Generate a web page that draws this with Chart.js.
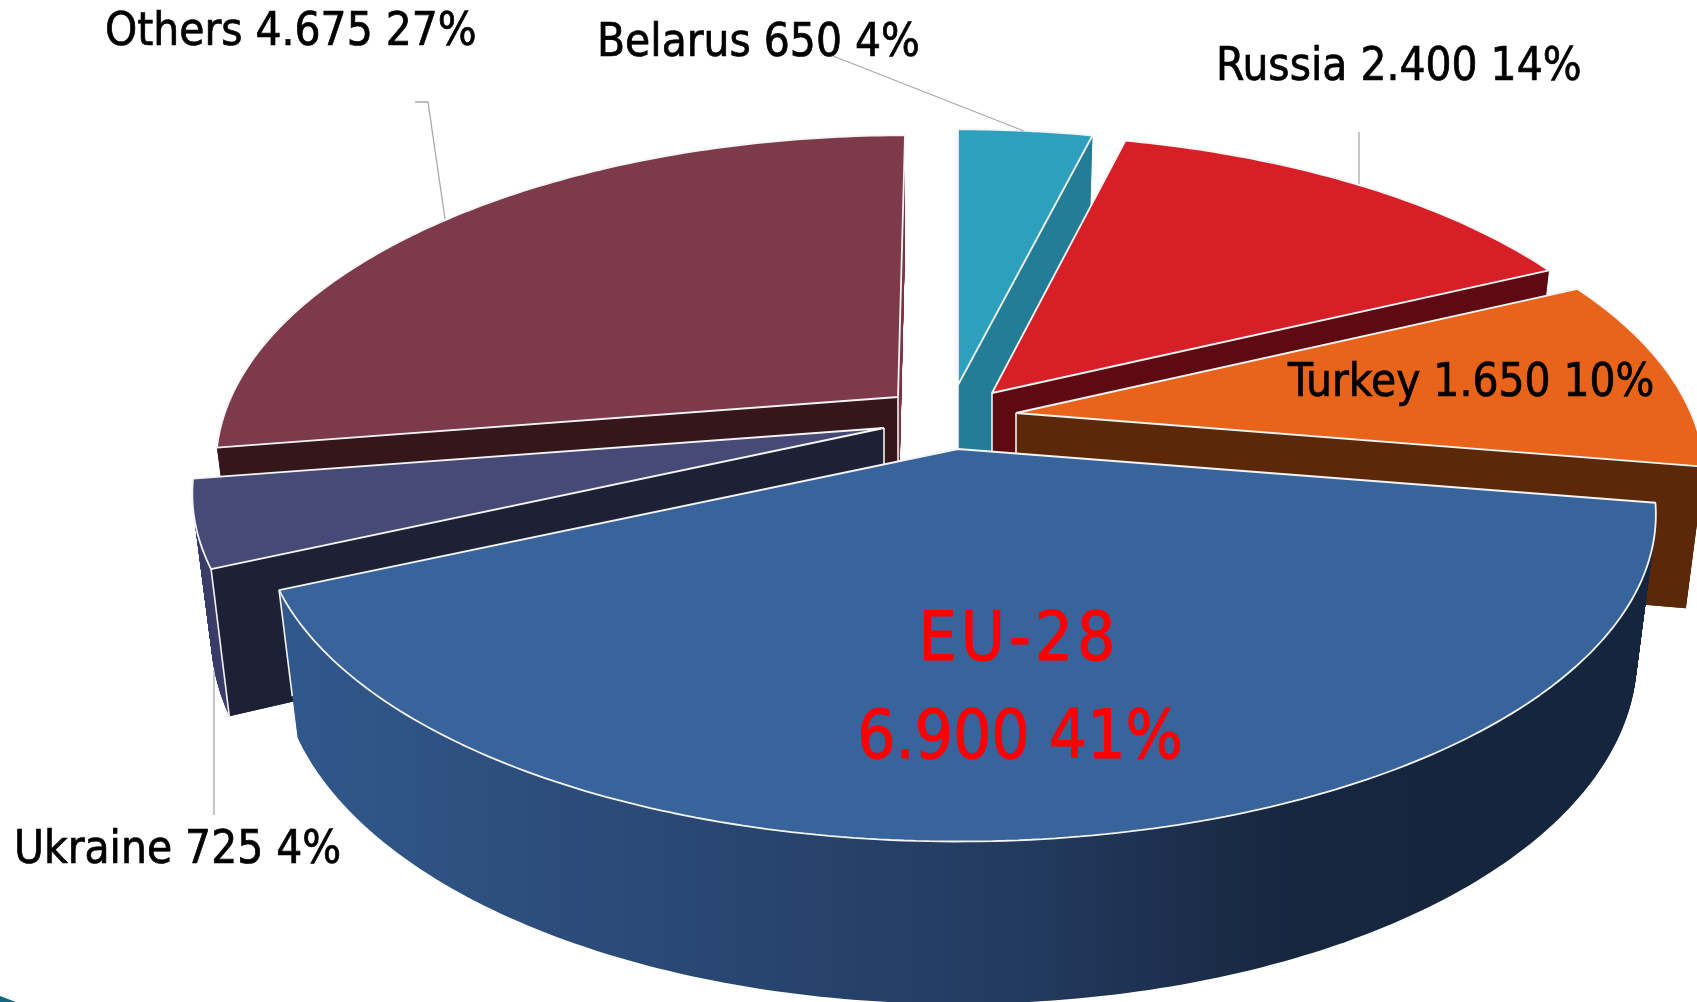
<!DOCTYPE html>
<html>
<head>
<meta charset="utf-8">
<title>Exports by destination</title>
<script src="https://cdn.jsdelivr.net/npm/chart.js@4"></script>
<style>
  html, body { margin: 0; padding: 0; background: #fff; overflow: hidden; }
  canvas { display: block; }
</style>
</head>
<body>
<canvas id="pie" width="1697" height="1002"></canvas>
<script>
// data, clockwise from 12 o'clock
const categories = ['Belarus', 'Russia', 'Turkey', 'EU-28', 'Ukraine', 'Others'];
const values = [650, 2400, 1650, 6900, 725, 4675];
const valueLabels = ['650', '2.400', '1.650', '6.900', '725', '4.675'];
const percentLabels = ['4%', '14%', '10%', '41%', '4%', '27%'];

const topColors = ['#2ca0bd', '#d71f27', '#e8641b', '#38639b', '#474a76', '#7d3a4a'];
const wallColors = ['#237d96', '#5f0a12', '#5c280a', null, '#3b3e69', '#7d3a4a'];
const faceColors = ['#237d96', '#5f0a12', '#5c280a', null, '#1d2136', '#35161a'];

// which cut edge of the slice faces the viewer
const faceEdges = ['end', 'end', 'end', null, 'start', 'start'];

// where the tip of each exploded slice ends up, plus small per slice fudge
const tips = [
  { x: 958, y: 385, wide: 1, tall: 0.977, lean: 0 },
  { x: 992, y: 393, wide: 0.992, tall: 0.988, lean: 0 },
  { x: 1016, y: 413, wide: 1, tall: 1, lean: 0 },
  { x: 958, y: 449, wide: 1.013, tall: 1, lean: 0 },
  { x: 884, y: 428, wide: 1.004, tall: 1, lean: 0 },
  { x: 898, y: 397, wide: 0.988, tall: 1, lean: -7 }
];
// camera: disc half width, half height and how fast the near side grows
const discW = 675;
const discH = 314;
const persp = 0.2;
const wallDepth = 138;
const wallGrow = 0.15;
const wallShrink = 0.027;
const wallSteps = 170;
const drawOrder = [5, 0, 1, 4, 2, 3];

const labelSpots = [
  { x: 597, y: 44 }, { x: 1216, y: 68 }, { x: 1288, y: 384 },
  null, { x: 14, y: 851 }, { x: 105, y: 33 }
];
const leaders = [
  [[415, 102], [428, 102], [445, 219]],
  [[833, 56], [1024, 131]],
  [[1359, 132], [1359, 184]],
  [[214, 670], [214, 815]]
];

const labelFont = '"DejaVu Sans Condensed", "DejaVu Sans", sans-serif';

// unit disc point -> screen, t = 0 top of the slice, t = 1 bottom of its wall
function toScreen(tip, u, w, t) {
  const f = 1 / (1 - persp * w);
  return [
    tip.x + (discW * tip.wide * u * f + tip.lean * w) * (1 - wallShrink * t),
    tip.y + discH * tip.tall * w * f + t * wallDepth / (1 - wallGrow * w)
  ];
}

// canvas stand-in: the arc element keeps drawing itself, its path just goes
// through the perspective on the way to the real context
function tiltedCtx(ctx, arc, tip, t) {
  const put = (x, y, first) => {
    const p = toScreen(tip, (x - arc.x) / arc.outerRadius, (y - arc.y) / arc.outerRadius, t);
    if (first) ctx.moveTo(p[0], p[1]); else ctx.lineTo(p[0], p[1]);
  };
  return new Proxy(ctx, {
    get(target, key) {
      if (key === 'arc') {
        return (x, y, r, a0, a1, ccw) => {
          const sweep = ccw ? -Math.abs(a0 - a1) : Math.abs(a1 - a0);
          const steps = Math.max(2, Math.ceil(Math.abs(sweep) / 0.015));
          for (let i = 0; i <= steps; i++) {
            const a = a0 + sweep * i / steps;
            put(x + r * Math.cos(a), y + r * Math.sin(a), false);
          }
        };
      }
      if (key === 'lineTo') return (x, y) => put(x, y, false);
      if (key === 'moveTo') return (x, y) => put(x, y, true);
      const val = target[key];
      return typeof val === 'function' ? val.bind(target) : val;
    },
    set(target, key, val) {
      target[key] = val;
      return true;
    }
  });
}

function drawArcAs(ctx, arc, tip, t, extra) {
  const keep = arc.options;
  arc.options = Object.assign({}, keep, extra);
  arc.draw(tiltedCtx(ctx, arc, tip, t));
  arc.options = keep;
}

function edgePoint(tip, angle, t) {
  return toScreen(tip, Math.cos(angle), Math.sin(angle), t);
}

function wallGradient(ctx, tip) {
  const g = ctx.createLinearGradient(tip.x - discW, 0, tip.x + discW, 0);
  g.addColorStop(0, '#31588c');
  g.addColorStop(0.55, '#233a5f');
  g.addColorStop(0.75, '#17263f');
  g.addColorStop(1, '#15253d');
  return g;
}

function whiteLine(ctx, p, q) {
  ctx.beginPath();
  ctx.moveTo(p[0], p[1]);
  ctx.lineTo(q[0], q[1]);
  ctx.strokeStyle = '#f2f2f2';
  ctx.lineWidth = 1.6;
  ctx.stroke();
}

const tiltedPie = {
  id: 'tiltedPie',
  beforeDatasetsDraw(chart) {
    const ctx = chart.ctx;
    const arcs = chart.getDatasetMeta(0).data;
    drawOrder.forEach(i => {
      const arc = arcs[i];
      const tip = tips[i];
      const wall = wallColors[i] || wallGradient(ctx, tip);

      // side wall, stacked copies of the slice going down
      for (let n = wallSteps; n >= 1; n--) {
        drawArcAs(ctx, arc, tip, n / wallSteps, { backgroundColor: wall, borderWidth: 0 });
      }

      // flat cut face
      if (faceEdges[i]) {
        const angle = faceEdges[i] === 'start' ? arc.startAngle : arc.endAngle;
        const a = edgePoint(tip, angle, 0), b = edgePoint(tip, angle, 1);
        const low = toScreen(tip, 0, 0, 1);
        ctx.beginPath();
        ctx.moveTo(tip.x, tip.y);
        ctx.lineTo(a[0], a[1]);
        ctx.lineTo(b[0], b[1]);
        ctx.lineTo(low[0], low[1]);
        ctx.closePath();
        ctx.fillStyle = faceColors[i];
        ctx.fill();
        whiteLine(ctx, [tip.x, tip.y], low);
        if (i === 4) whiteLine(ctx, a, b);
      } else {
        whiteLine(ctx, edgePoint(tip, arc.endAngle, 0), edgePoint(tip, arc.endAngle, 0.72));
      }

      drawArcAs(ctx, arc, tip, 0, {});
    });
    return false;
  },
  afterDraw(chart) {
    const ctx = chart.ctx;
    ctx.save();

    leaders.forEach(pts => {
      ctx.beginPath();
      pts.forEach((p, j) => j ? ctx.lineTo(p[0], p[1]) : ctx.moveTo(p[0], p[1]));
      ctx.strokeStyle = '#a9a9a9';
      ctx.lineWidth = 1.3;
      ctx.stroke();
    });

    ctx.textBaseline = 'middle';
    ctx.textAlign = 'left';
    ctx.fillStyle = '#000';
    ctx.strokeStyle = '#000';
    ctx.lineWidth = 0.7;
    ctx.font = '45.5px ' + labelFont;
    labelSpots.forEach((s, i) => {
      if (!s) return;
      const text = categories[i] + ' ' + valueLabels[i] + ' ' + percentLabels[i];
      ctx.fillText(text, s.x, s.y);
      ctx.strokeText(text, s.x, s.y);
    });

    // big one in the middle of the EU slice
    ctx.textAlign = 'center';
    ctx.fillStyle = '#ff0000';
    ctx.strokeStyle = '#ff0000';
    ctx.lineWidth = 1;
    ctx.font = '67px ' + labelFont;
    const bigValue = valueLabels[3] + ' ' + percentLabels[3];
    ctx.fillText(bigValue, 1020, 741);
    ctx.strokeText(bigValue, 1020, 741);
    ctx.letterSpacing = '4px';
    ctx.fillText(categories[3], 1019, 643);
    ctx.strokeText(categories[3], 1019, 643);
    ctx.letterSpacing = '0px';

    // bit of the slide decoration in the corner
    ctx.beginPath();
    ctx.moveTo(0, 996);
    ctx.lineTo(16, 1002);
    ctx.lineTo(0, 1002);
    ctx.closePath();
    ctx.fillStyle = '#0f6a80';
    ctx.fill();
    ctx.restore();
  }
};

new Chart(document.getElementById('pie').getContext('2d'), {
  type: 'pie',
  data: {
    labels: categories,
    datasets: [{
      data: values,
      backgroundColor: topColors,
      borderColor: '#f4f4f4',
      borderWidth: 1.8
    }]
  },
  options: {
    responsive: false,
    animation: false,
    plugins: { legend: { display: false }, tooltip: { enabled: false } }
  },
  plugins: [tiltedPie]
});
</script>
</body>
</html>
